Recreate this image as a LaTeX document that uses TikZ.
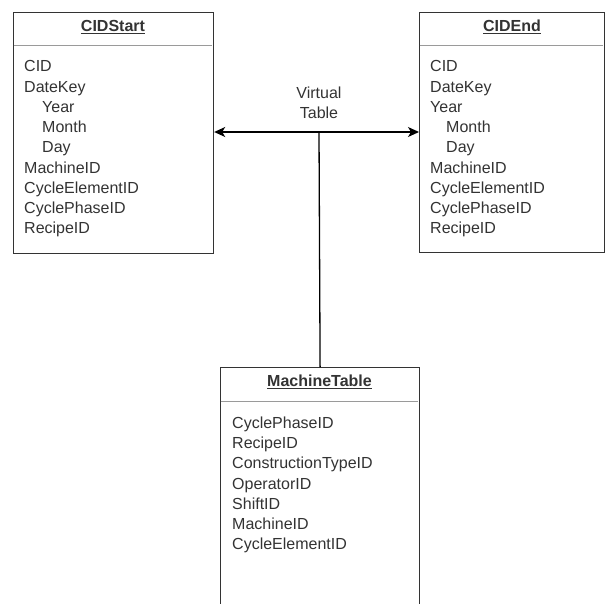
\documentclass[tikz,border=0pt]{standalone}
\usepackage{fontspec}
\setmainfont{Liberation Sans}
\usetikzlibrary{arrows.meta}
\definecolor{ink}{HTML}{333333}
\definecolor{rule}{HTML}{9A9A9A}
\begin{document}
\begin{tikzpicture}[x=1pt,y=-1pt,
  entity/.style={draw=ink, line width=1.2pt, fill=white, inner sep=0pt, anchor=north west},
  title/.style={text=ink, font=\fontsize{16}{19}\selectfont\bfseries, inner sep=0pt},
  fields/.style={text=ink, font=\fontsize{16}{20.25}\selectfont, align=left, inner sep=0pt, anchor=north west},
  caption/.style={text=ink, font=\fontsize{16}{20}\selectfont, align=center, inner sep=0pt},
  link/.style={line width=1.3pt, draw=black},
  tip/.style={-{Stealth[length=11pt,width=10pt,inset=3pt]}}
]
\useasboundingbox (0,0) rectangle (607,603);
\clip (0,0) rectangle (607,603);

% CIDStart table
\node[entity, minimum width=200pt, minimum height=241pt] (start) at (13,12) {};
\draw[rule, line width=0.9pt] (13.6,45) -- (212.4,45);
\node[title] (startT) at (113,27) {\underline{CIDStart}};
\node[fields] (startF) at (24,60.5) {CID\\DateKey\\\hspace*{18pt}Year\\\hspace*{18pt}Month\\\hspace*{18pt}Day\\MachineID\\CycleElementID\\CyclePhaseID\\RecipeID};

% CIDEnd table
\node[entity, minimum width=185pt, minimum height=240pt] (end) at (419,12) {};
\draw[rule, line width=0.9pt] (419.6,45) -- (603.4,45);
\node[title] (endT) at (512,27) {\underline{CIDEnd}};
\node[fields] (endF) at (430,60.5) {CID\\DateKey\\Year\\\hspace*{16pt}Month\\\hspace*{16pt}Day\\MachineID\\CycleElementID\\CyclePhaseID\\RecipeID};

% MachineTable, running past the lower edge
\node[entity, minimum width=199pt, minimum height=260pt] (machine) at (220,367) {};
\draw[rule, line width=0.9pt] (220.6,401) -- (418.4,401);
\node[title] (machineT) at (319.5,382) {\underline{MachineTable}};
\node[fields] (machineF) at (232,416.5) {CyclePhaseID\\RecipeID\\ConstructionTypeID\\OperatorID\\ShiftID\\MachineID\\CycleElementID};

% Virtual table junction
\coordinate (hub) at (319,132);
\node[caption] (vt) at (319,103) {Virtual\\Table};
\draw[link, tip] (hub) -- (start.east |- hub);
\draw[link, tip] (hub) -- (end.west |- hub);
\draw[link] (hub) -- (machine.north);
\end{tikzpicture}
\end{document}
